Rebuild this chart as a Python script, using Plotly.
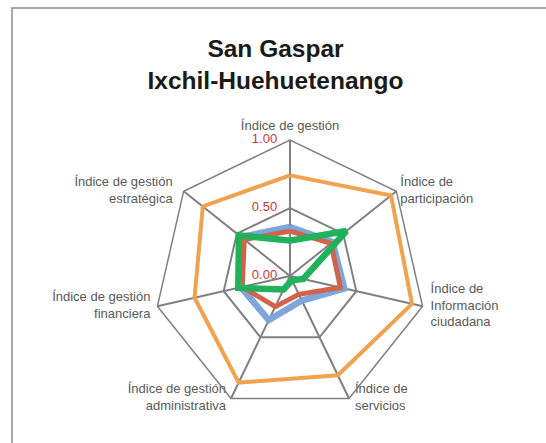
import plotly.graph_objects as go

# axis categories, clockwise from the top
categories = [
    "Índice de gestión",
    "Índice de<br>participación",
    "Índice de<br>Información<br>ciudadana",
    "Índice de<br>servicios",
    "Índice de gestión<br>administrativa",
    "Índice de gestión<br>financiera",
    "Índice de gestión<br>estratégica",
]

# values
serie_azul = [0.36, 0.40, 0.41, 0.20, 0.36, 0.37, 0.46]
serie_roja = [0.33, 0.385, 0.38, 0.15, 0.25, 0.36, 0.43]
serie_verde = [0.26, 0.53, 0.10, 0.035, 0.11, 0.39, 0.48]
serie_naranja = [0.74, 0.95, 0.92, 0.81, 0.87, 0.72, 0.82]

tick_vals = [0, 0.5, 1.0]
tick_text = ["0.00", "0.50", "1.00"]

W, H = 546, 443
cx, cy, R = 290, 276, 136


def closed(vals):
    return vals + vals[:1]


theta = closed(categories)

fig = go.Figure()
series = [
    ("Serie 1", serie_azul, "#7EA6DA", 6.5),
    ("Serie 2", serie_roja, "#D2634B", 5),
    ("Serie 3", serie_verde, "#1FB25A", 6.5),
    ("Serie 4", serie_naranja, "#F0A24F", 4),
]
for name, vals, color, width in series:
    fig.add_trace(go.Scatterpolar(
        r=closed(vals), theta=theta, mode="lines", name=name,
        line=dict(color=color, width=width),
    ))

# category labels just outside each outer vertex
# (invisible markers only set the gap between vertex and text)
fig.add_trace(go.Scatterpolar(
    r=[1.0] * len(categories), theta=categories, text=categories,
    mode="markers+text", cliponaxis=False, hoverinfo="skip",
    textposition=["top center", "middle right", "middle right", "middle right",
                  "middle left", "middle left", "middle left"],
    marker=dict(size=[9.6, 4.8, 11.2, 8, 6.4, 9.6, 16], opacity=0),
    textfont=dict(size=13, color="#595959"),
))

# radial tick labels, left of the vertical axis
# plotly drops a point sitting exactly on the pole, so nudge r=0 by a hair
tick_r = [max(v, 1e-3) for v in tick_vals]
fig.add_trace(go.Scatterpolar(
    r=tick_r, theta=[categories[0]] * len(tick_vals), text=tick_text,
    mode="markers+text", cliponaxis=False, hoverinfo="skip",
    textposition="middle left",
    marker=dict(size=19, opacity=0),
    textfont=dict(size=13, color="#C8373A"),
))

fig.update_layout(
    width=W, height=H,
    margin=dict(l=0, r=0, t=0, b=0),
    paper_bgcolor="white",
    showlegend=False,
    font=dict(family="Liberation Sans, Arial, sans-serif", color="#595959", size=13),
    title=dict(
        text="<b>San Gaspar<br>Ixchil-Huehuetenango</b>",
        x=275.5 / W, xanchor="center", y=1 - 57 / H, yanchor="top",
        font=dict(family="Liberation Sans, Arial, sans-serif", size=24.5, color="#1a1a1a"),
    ),
    polar=dict(
        domain=dict(x=[(cx - R) / W, (cx + R) / W],
                    y=[(H - cy - R) / H, (H - cy + R) / H]),
        bgcolor="white",
        gridshape="linear",
        angularaxis=dict(
            direction="clockwise", rotation=90,
            showline=True, linecolor="#808080", linewidth=1.5,
            gridcolor="#808080", gridwidth=1.5,
            ticks="", showticklabels=False,
        ),
        radialaxis=dict(
            range=[0, 1], angle=90,
            tickvals=tick_vals, showticklabels=False,
            showline=False, gridcolor="#808080", gridwidth=1.5,
            ticks="",
        ),
    ),
    shapes=[dict(
        type="rect", xref="paper", yref="paper",
        x0=12 / W, x1=1.05, y0=-0.05, y1=1 - 8 / H,
        line=dict(color="#8c8c8c", width=1.5),
    )],
)

fig.write_html("out.html", config={"displayModeBar": False},
               post_script="document.body.style.margin='0';")
